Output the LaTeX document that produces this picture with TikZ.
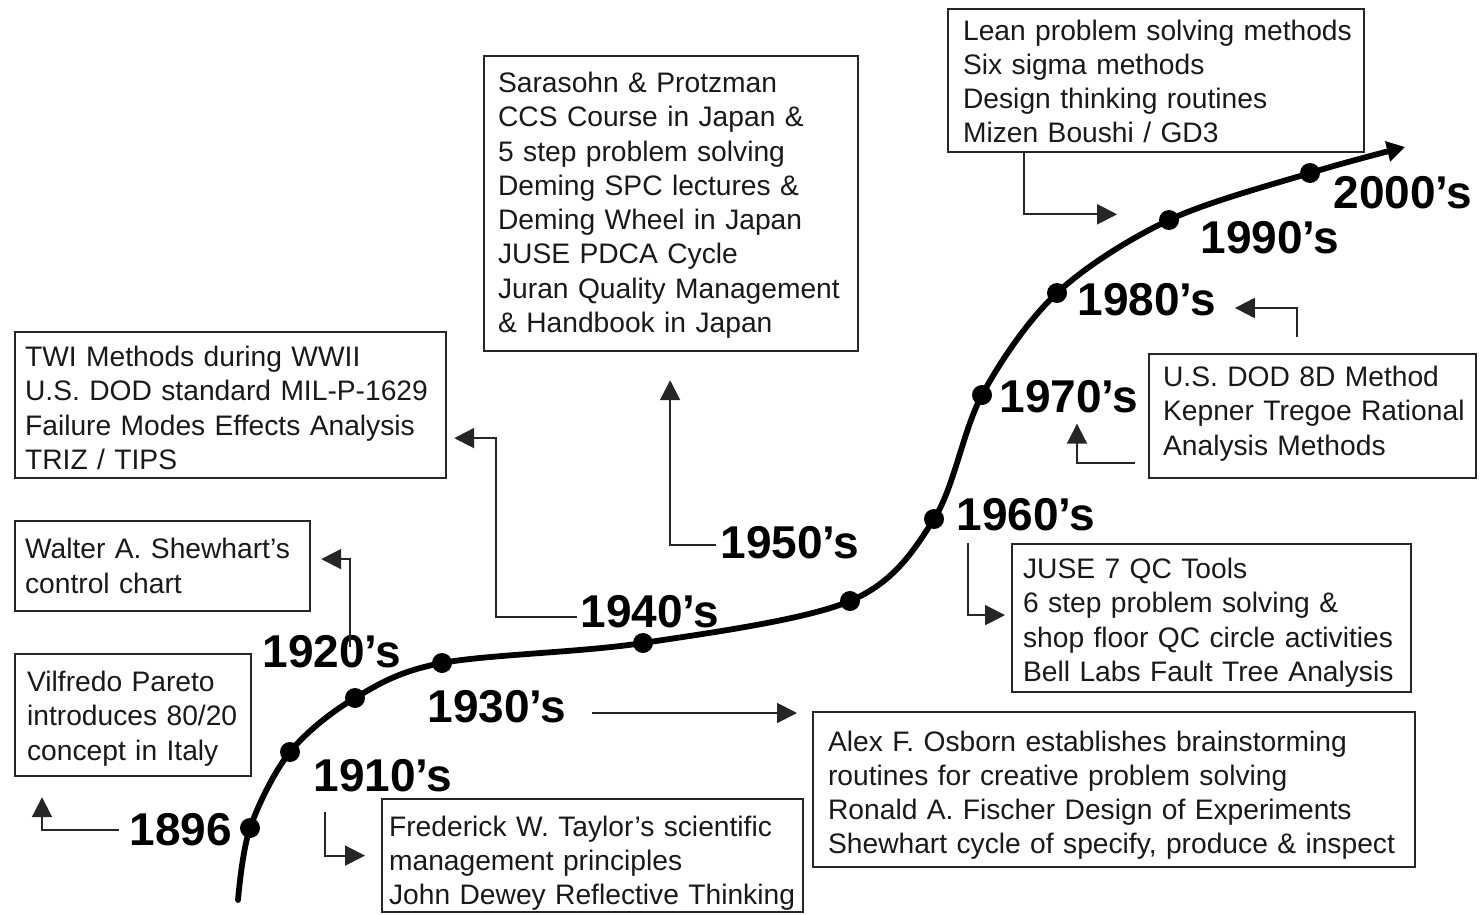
\documentclass[tikz,border=0pt]{standalone}
\usepackage{fontspec}
\setmainfont{Liberation Sans}
\usetikzlibrary{arrows.meta,calc}

\tikzset{
  infobox/.style={draw=black!85, line width=1.1pt, anchor=north west, align=left,
    inner ysep=0pt, font=\fontsize{14.1}{17.15}\selectfont, text=black!90},
  year/.style={inner sep=0pt, font=\fontsize{23}{27}\selectfont\bfseries},
  dot/.style={circle, fill=black, inner sep=0pt, minimum size=10pt},
  conn/.style={draw=black!85, line width=1pt, -{Triangle[length=10pt,width=10pt]}},
  timeline/.style={line width=2.9pt, line cap=round, -{Triangle[length=9pt,width=10pt]}}
}
% box text: the lines, raised by #1 while keeping their natural size
\newcommand{\boxlines}[2]{\raisebox{#1}[\height][\depth]{\begin{tabular}{@{}l@{}}#2\end{tabular}}}

\begin{document}
\begin{tikzpicture}[x=0.5pt, y=-0.5pt]
\useasboundingbox (0,0) rectangle (1484,915);

% event boxes
\node[infobox, inner xsep=6pt, text width=106pt, minimum height=61pt] (pareto) at (14,653)
  {\boxlines{-2pt}{Vilfredo Pareto\\ introduces 80/20\\ concept in Italy}};
\node[infobox, inner xsep=5pt, text width=137.5pt, minimum height=45pt] (shewhart) at (14,520)
  {\boxlines{-1.5pt}{Walter A. Shewhart’s\\ control chart}};
\node[infobox, inner xsep=5pt, text width=205.5pt, minimum height=73pt] (twi) at (14,331)
  {\boxlines{-3pt}{TWI Methods during WWII\\ U.S. DOD standard MIL-P-1629\\ Failure Modes Effects Analysis\\ TRIZ / TIPS}};
\node[infobox, inner xsep=7pt, text width=173pt, minimum height=147.5pt] (sara) at (483,55)
  {\boxlines{-1pt}{Sarasohn \& Protzman\\ CCS Course in Japan \&\\ 5 step problem solving\\ Deming SPC lectures \&\\ Deming Wheel in Japan\\ JUSE PDCA Cycle\\ Juran Quality Management\\ \& Handbook in Japan}};
\node[infobox, inner xsep=7.5pt, text width=193pt, minimum height=71.5pt] (lean) at (947,8)
  {\boxlines{-2pt}{Lean problem solving methods\\ Six sigma methods\\ Design thinking routines\\ Mizen Boushi / GD3}};
\node[infobox, inner xsep=7pt, text width=149.5pt, minimum height=62pt] (dod) at (1148,353)
  {\boxlines{1pt}{U.S. DOD 8D Method\\ Kepner Tregoe Rational\\ Analysis Methods}};
\node[infobox, inner xsep=5.5pt, text width=188.5pt, minimum height=74pt] (juse) at (1011,543)
  {\boxlines{-2.5pt}{JUSE 7 QC Tools\\ 6 step problem solving \&\\ shop floor QC circle activities\\ Bell Labs Fault Tree Analysis}};
\node[infobox, inner xsep=7.5pt, text width=286pt, minimum height=77.5pt] (osborn) at (812,711)
  {\boxlines{-3pt}{Alex F. Osborn establishes brainstorming\\ routines for creative problem solving\\ Ronald A. Fischer Design of Experiments\\ Shewhart cycle of specify, produce \& inspect}};
\node[infobox, inner xsep=3.5pt, text width=203.5pt, minimum height=56.5pt] (taylor) at (381,798)
  {\boxlines{-4pt}{Frederick W. Taylor’s scientific\\ management principles\\ John Dewey Reflective Thinking}};

% timeline points
\coordinate (tstart) at (238,900);
\node[dot] (d0) at (250,828) {};
\node[dot] (d1) at (290,752) {};
\node[dot] (d2) at (355,698) {};
\node[dot] (d3) at (442,663) {};
\node[dot] (d4) at (643,643) {};
\node[dot] (d5) at (850,601) {};
\node[dot] (d6) at (934,519) {};
\node[dot] (d7) at (982,395) {};
\node[dot] (d8) at (1057,293) {};
\node[dot] (d9) at (1169,220) {};
\node[dot] (d10) at (1310,173) {};
\coordinate (tend) at (1405,147);

\draw[timeline] plot[smooth, tension=0.55] coordinates {(tstart) (d0.center) (d1.center) (d2.center) (d3.center) (d4.center) (d5.center) (d6.center) (d7.center) (d8.center) (d9.center) (d10.center) (tend)};

% year labels
\node[year] (y1896) at (181,830) {1896};
\node[year] (y1910) at (383,776) {1910’s};
\node[year] (y1920) at (332,652) {1920’s};
\node[year] (y1930) at (497,707) {1930’s};
\node[year] (y1940) at (650,612) {1940’s};
\node[year] (y1950) at (790,543) {1950’s};
\node[year] (y1960) at (1026,515) {1960’s};
\node[year] (y1970) at (1069,397) {1970’s};
\node[year] (y1980) at (1147,300) {1980’s};
\node[year] (y1990) at (1270,238) {1990’s};
\node[year] (y2000) at (1403,193) {2000’s};

% connectors between years and boxes
\draw[conn] ($(y1896.west)+(-10,0)$) -| ($(pareto.south west)+(28,20)$);
\draw[conn] ($(y1910.south west)+(12,19)$) |- ($(taylor.west)+(-16,0)$);
\draw[conn] ($(y1920.north)+(18,12)$) |- ($(shewhart.east)+(10,-7)$);
\draw[conn] ($(y1930.east)+(25,6)$) -- ($(osborn.north west)+(-15,2)$);
\draw[conn] ($(y1940.west)+(-3,5)$) -| ($(twi.east)+(49,33)$) -- ($(twi.east)+(7,33)$);
\draw[conn] ($(y1950.west)+(-4,2)$) -| ($(sara.south)+(-1,28)$);
\draw[conn] ($(y1960.south west)+(12,11)$) |- ($(juse.west)+(-6,-3)$);
\draw[conn] ($(dod.west)+(-13,47)$) -| ($(y1970.south)+(8,10)$);
\draw[conn] ($(dod.north)+(-16,-16)$) |- ($(y1980.east)+(18,8)$);
\draw[conn] ($(lean.south west)+(77,0)$) |- ($(y1990.north west)+(-83,-7)$);
\end{tikzpicture}
\end{document}
